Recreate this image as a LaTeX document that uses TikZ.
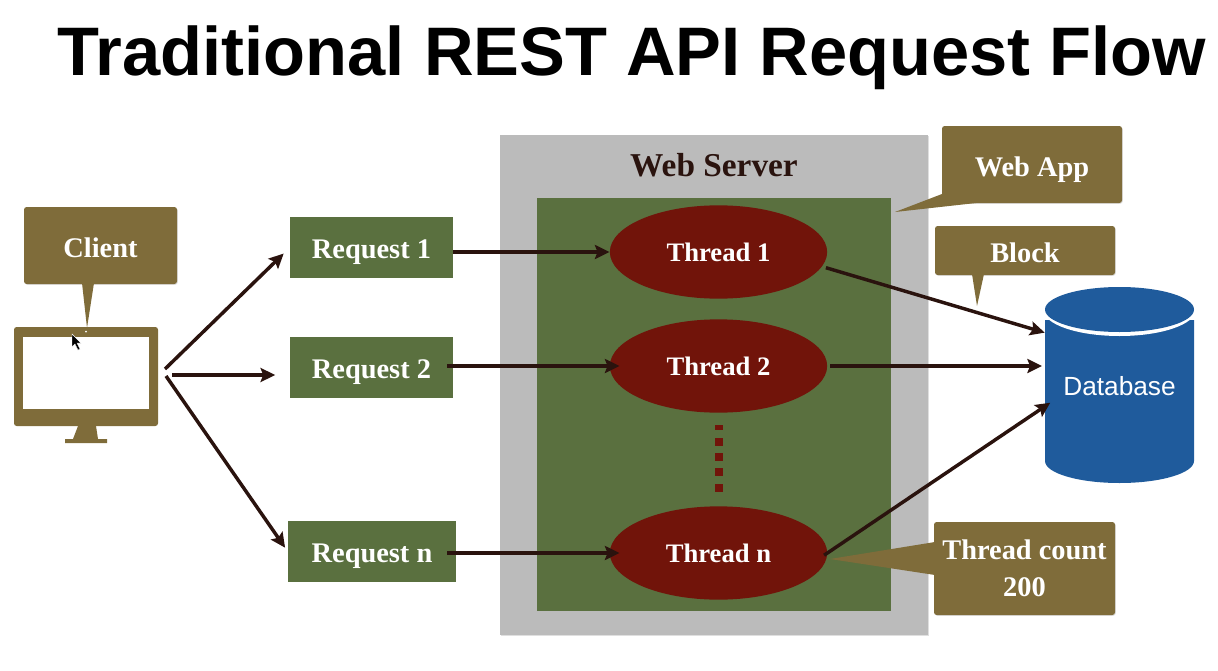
\documentclass[tikz,border=0pt]{standalone}
\usepackage{fontspec}
\setmainfont{Liberation Serif}
\newfontfamily\headfont{Liberation Sans}
\usetikzlibrary{positioning,calc,shapes.geometric,arrows.meta,shadows}
\definecolor{noteolive}{HTML}{7F6C3A}
\definecolor{boxgreen}{HTML}{5A703F}
\definecolor{threadred}{HTML}{71140A}
\definecolor{servergray}{HTML}{BBBBBB}
\definecolor{dbblue}{HTML}{1F5B9C}
\definecolor{flowdark}{HTML}{2A130E}
\tikzset{
    softshadow/.style={drop shadow={shadow xshift=0.6pt, shadow yshift=-0.6pt, opacity=0.25}},
    label text/.style={text=white, font=\fontsize{21.3}{26.5}\selectfont\bfseries, align=center},
    reqbox/.style={fill=boxgreen, label text, inner sep=0pt, text height=18pt, text depth=1pt, minimum width=122pt, minimum height=46pt},
    threadnode/.style={ellipse, fill=threadred, label text, font=\fontsize{20}{26}\selectfont\bfseries, inner sep=0pt, minimum width=163pt, minimum height=70pt},
    notebox/.style={fill=noteolive, rounded corners=2pt, label text, inner sep=0pt, softshadow},
    flow/.style={draw=flowdark, line width=2.6pt, -{Stealth[length=11pt, width=10.5pt, inset=2pt]}}
}
\begin{document}
\begin{tikzpicture}[x=0.75pt, y=-0.75pt]
    \useasboundingbox (0,0) rectangle (1218,671);

    % Title
    \node[font=\headfont\fontsize{51.5}{56}\selectfont\bfseries] (title) at (632,58) {Traditional REST API Request Flow};

    % Web Server
    \fill[servergray, softshadow] (500,135) rectangle (928,635);
    \fill[boxgreen] (537,198) rectangle (891,611);
    \node[font=\fontsize{25}{30}\selectfont\bfseries, text=flowdark] (server) at (714,165) {Web Server};

    % Client monitor
    \fill[noteolive, rounded corners=2pt] (14,327) rectangle (158,426);
    \fill[white] (23,337) rectangle (149,409);
    \fill[noteolive] (78,426) -- (96,426) -- (98,439) -- (107,439) -- (107,443) -- (65,443) -- (65,439) -- (73,439) -- cycle;
    \fill[white] (86,331.5) circle (1);
    \draw[white, fill=black, line width=0.3pt] (72,334) -- (72,347) -- (75,344) -- (78,350) -- (80,349) -- (77,343) -- (81,343) -- cycle;
    \coordinate (clientup) at (165,369);
    \coordinate (clientmid) at (172,375);
    \coordinate (clientdown) at (166,376);

    % Requests
    \node[reqbox] (req1) at (371.5,247.5) {Request 1};
    \node[reqbox] (req2) at (371.5,367.5) {Request 2};
    \node[reqbox, minimum width=126pt] (reqn) at (372,551.5) {Request n};

    % Threads
    \node[threadnode] (thread1) at (718.5,252) {Thread 1};
    \node[threadnode] (thread2) at (718.5,366) {Thread 2};
    \node[threadnode] (threadn) at (718.5,553) {Thread n};
    \fill[threadred] (715,425) rectangle (723,430);
    \foreach \y in {438,453,468,484}
        \fill[threadred] (715,\y) rectangle (723,\y+8);

    % Database
    \fill[dbblue] (1045,320) -- (1045,461) arc[start angle=180, end angle=0, x radius=74.5, y radius=22] -- (1194,320) -- cycle;
    \fill[white] (1119.5,310) ellipse[x radius=76, y radius=26];
    \fill[dbblue] (1119.5,309.5) ellipse[x radius=74.5, y radius=22.5];
    \node[minimum width=111.75pt, minimum height=147pt, inner sep=0pt] (db) at (1119.5,385) {};
    \node[text=white, font=\headfont\fontsize{19.7}{24}\selectfont] (dbtext) at (1119.5,386) {Database};

    % Connectors
    \draw[flow, shorten >=6.5pt] (clientup) -- (req1.west);
    \draw[flow, shorten >=11pt] (clientmid) -- (clientmid -| req2.west);
    \draw[flow, shorten >=3.5pt] (clientdown) -- (reqn.west);
    \draw[flow] (req1.east |- thread1.west) -- (thread1.west);
    \draw[flow, shorten <=-4.5pt, shorten >=-7.5pt] (req2.east |- thread2.west) -- (thread2.west);
    \draw[flow, shorten <=-6.75pt, shorten >=-7.5pt] (reqn.east |- threadn.west) -- (threadn.west);
    \draw[flow, shorten <=3pt] (thread1.-8) -- (db.145);
    \draw[flow, shorten <=2pt, shorten >=2pt] (thread2.east) -- (thread2.east -| db.west);
    \draw[flow, shorten <=-3pt, shorten >=-5pt] (threadn.east) -- (db.196.5);

    % Callouts
    \node[notebox, text height=18pt, text depth=0pt, minimum width=114.75pt, minimum height=57.75pt] (clientnote) at (100.5,245.5) {Client};
    \fill[noteolive] (82,283) -- (94,283) -- (87,328) -- cycle;
    \node[notebox, text height=18.4pt, text depth=0pt, minimum width=135pt, minimum height=57.75pt] (appnote) at (1032,164.5) {Web App};
    \fill[noteolive] (942,194) -- (976,203) -- (895,212) -- cycle;
    \node[notebox, text height=18pt, text depth=0pt, minimum width=135pt, minimum height=36.75pt] (blocknote) at (1025,250.5) {Block};
    \fill[noteolive] (972,274) -- (984,274) -- (977,306) -- cycle;
    \node[notebox, minimum width=135.75pt, minimum height=69.75pt] (countnote) at (1024.5,568.5) {Thread count\\[1pt]200};
    \fill[noteolive] (935,542) -- (935,575) -- (830,559) -- cycle;
\end{tikzpicture}
\end{document}
